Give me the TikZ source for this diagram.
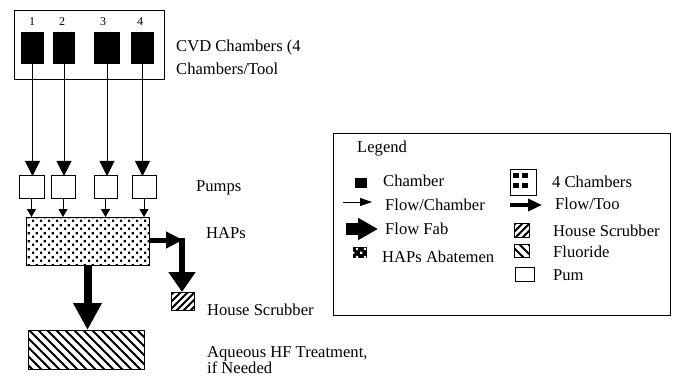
\documentclass[tikz,border=0pt]{standalone}
\usepackage{fontspec}
\setmainfont{Liberation Serif}
\usepackage{tikz}
\usetikzlibrary{arrows.meta, patterns}
\newcommand{\labelFont}{\fontsize{16.6}{20}\selectfont}
\newcommand{\numberFont}{\fontsize{12}{14}\selectfont}
\pgfdeclarepatternformonly{hapsDots}{\pgfqpoint{0pt}{0pt}}{\pgfqpoint{8pt}{8pt}}{\pgfqpoint{8pt}{8pt}}{
  \pgfpathrectangle{\pgfqpoint{0pt}{0pt}}{\pgfqpoint{2.5pt}{2.5pt}}
  \pgfpathrectangle{\pgfqpoint{4pt}{4pt}}{\pgfqpoint{2.5pt}{2.5pt}}
  \pgfusepath{fill}
}
\pgfdeclarepatternformonly{fluorideLines}{\pgfqpoint{-1pt}{-1pt}}{\pgfqpoint{10pt}{10pt}}{\pgfqpoint{9pt}{9pt}}{
  \pgfsetlinewidth{1.8pt}
  \pgfpathmoveto{\pgfqpoint{-1pt}{10pt}}
  \pgfpathlineto{\pgfqpoint{10pt}{-1pt}}
  \pgfusepath{stroke}
}
\pgfdeclarepatternformonly{scrubberLines}{\pgfqpoint{-1pt}{-1pt}}{\pgfqpoint{8pt}{8pt}}{\pgfqpoint{7pt}{7pt}}{
  \pgfsetlinewidth{1.8pt}
  \pgfpathmoveto{\pgfqpoint{-1pt}{-1pt}}
  \pgfpathlineto{\pgfqpoint{8pt}{8pt}}
  \pgfusepath{stroke}
}
\tikzstyle{diagram} = [x = 1pt, y = -1pt]
\tikzstyle{outlineBox} = [draw, line width=1pt, inner sep=0pt, outer sep=0pt]
\tikzstyle{chamberStyle} = [fill=black, inner sep=0pt, outer sep=0pt]
\tikzstyle{pumpStyle} = [outlineBox, fill=white]
\tikzstyle{hapsStyle} = [outlineBox, pattern=hapsDots]
\tikzstyle{scrubberStyle} = [outlineBox, pattern=scrubberLines]
\tikzstyle{fluorideStyle} = [outlineBox, pattern=fluorideLines]
\tikzstyle{textLabel} = [font=\labelFont, anchor=base west, inner sep=0pt]
\tikzstyle{numberLabel} = [font=\numberFont, anchor=base, inner sep=0pt]
\tikzstyle{chamberFlow} = [line width=1pt, -{Triangle[length=15pt, width=15pt]}]
\tikzstyle{pumpFlow} = [line width=1pt, -{Triangle[length=8pt, width=9pt]}]
\tikzstyle{toolFlow} = [line width=5pt, -{Triangle[length=17pt, width=16pt]}]
\tikzstyle{fabFlow} = [line width=6pt, -{Triangle[length=20pt, width=26pt]}]
\tikzstyle{treatFlow} = [line width=8pt, -{Triangle[length=27pt, width=27pt]}]
\tikzstyle{keyChamberFlow} = [line width=1pt, -{Triangle[length=12pt, width=8pt]}]
\tikzstyle{keyToolFlow} = [line width=4pt, -{Triangle[length=14pt, width=12pt]}]
\tikzstyle{keyFabFlow} = [line width=12pt, -{Triangle[length=20pt, width=21pt]}]
\newcommand{\boxNode}[6]{
  \pgfmathsetmacro{\boxW}{#5 - #3}
  \pgfmathsetmacro{\boxH}{#6 - #4}
  \node [#2, minimum width=\boxW pt, minimum height=\boxH pt] (#1) at ({(#3 + #5)/2}, {(#4 + #6)/2}) {};
}
\begin{document}
\begin{tikzpicture}[diagram]
    \useasboundingbox (0,0) rectangle (674,382);
    % tool with four chambers
    \boxNode{tool}{outlineBox}{14}{11}{164}{80}
    \foreach \n/\xa/\xb/\xn in {1/21/44/32, 2/53/75/62, 3/94/120/103, 4/131/154/140} {
      \boxNode{ch\n}{chamberStyle}{\xa}{32}{\xb}{64}
      \node [numberLabel] (num\n) at (\xn, 26) {\n};
    }
    \node [textLabel] (cvdText) at (176, 52) {CVD Chambers (4};
    \node [textLabel] (toolText) at (176, 75) {Chambers/Tool};
    % pumps and abatement
    \foreach \n/\xa/\xb in {1/19/44, 2/51/75, 3/94/117, 4/132/156} {
      \boxNode{p\n}{pumpStyle}{\xa}{176}{\xb}{198}
    }
    \boxNode{haps}{hapsStyle}{26}{217}{149}{265}
    \boxNode{scrubber}{scrubberStyle}{171}{292}{194}{310}
    \boxNode{aqueous}{fluorideStyle}{28}{330}{144}{369}
    \foreach \n in {1,...,4} {
      \draw [chamberFlow] (ch\n.south) -- (ch\n.south |- p\n.north);
      \draw [pumpFlow] (p\n.south) -- (p\n.south |- haps.north);
    }
    \coordinate (bend) at (183, 240);
    \coordinate (drop) at (182, 238);
    \draw [toolFlow] (haps.east |- bend) -- (bend);
    \draw [fabFlow] (drop) -- (drop |- scrubber.north);
    \draw [treatFlow] (haps.south) -- (haps.south |- aqueous.north);
    \node [textLabel] (pumpsText) at (196, 192) {Pumps};
    \node [textLabel] (hapsText) at (206, 238) {HAPs};
    \node [textLabel] (scrubberText) at (207, 315) {House Scrubber};
    \node [textLabel] (aqueousText) at (207, 357) {Aqueous HF Treatment,};
    \node [textLabel] (neededText) at (207, 373) {if Needed};
    % legend
    \boxNode{legend}{outlineBox}{333}{134}{670}{315}
    \node [textLabel] (legendText) at (357, 153) {Legend};
    \boxNode{keyChamber}{chamberStyle}{355}{178}{367}{188}
    \node [textLabel] (keyChamberText) at (383, 186) {Chamber};
    \coordinate (keyChamberA) at (343, 202);
    \coordinate (keyChamberB) at (372, 202);
    \draw [keyChamberFlow] (keyChamberA) -- (keyChamberB);
    \node [textLabel] (keyChamberFlowText) at (385, 210) {Flow/Chamber};
    \coordinate (keyFabA) at (346, 229);
    \coordinate (keyFabB) at (378, 229);
    \draw [keyFabFlow] (keyFabA) -- (keyFabB);
    \node [textLabel] (keyFabText) at (385, 234) {Flow Fab};
    \boxNode{keyHaps}{chamberStyle}{353}{247}{367}{258}
    \fill [pattern=hapsDots, pattern color=white] (keyHaps.north west) rectangle (keyHaps.south east);
    \node [textLabel] (keyHapsText) at (382, 262) {HAPs Abatemen};
    \boxNode{keyTool}{outlineBox}{510}{170}{536}{195}
    \foreach \n/\xa/\ya in {1/513/173, 2/522/173, 3/513/183, 4/522/183} {
      \boxNode{keyCh\n}{chamberStyle}{\xa}{\ya}{\xa + 6}{\ya + 5}
    }
    \node [textLabel] (keyToolText) at (552, 188) {4 Chambers};
    \coordinate (keyToolA) at (510, 205);
    \coordinate (keyToolB) at (542, 205);
    \draw [keyToolFlow] (keyToolA) -- (keyToolB);
    \node [textLabel] (keyToolFlowText) at (555, 209) {Flow/Too};
    \boxNode{keyScrubber}{scrubberStyle}{514}{223}{529}{237}
    \node [textLabel] (keyScrubberText) at (553, 236) {House Scrubber};
    \boxNode{keyFluoride}{fluorideStyle}{514}{244}{529}{257}
    \node [textLabel] (keyFluorideText) at (553, 257) {Fluoride};
    \boxNode{keyPump}{pumpStyle}{515}{267}{534}{281}
    \node [textLabel] (keyPumpText) at (553, 280) {Pum};
\end{tikzpicture}
\end{document}
